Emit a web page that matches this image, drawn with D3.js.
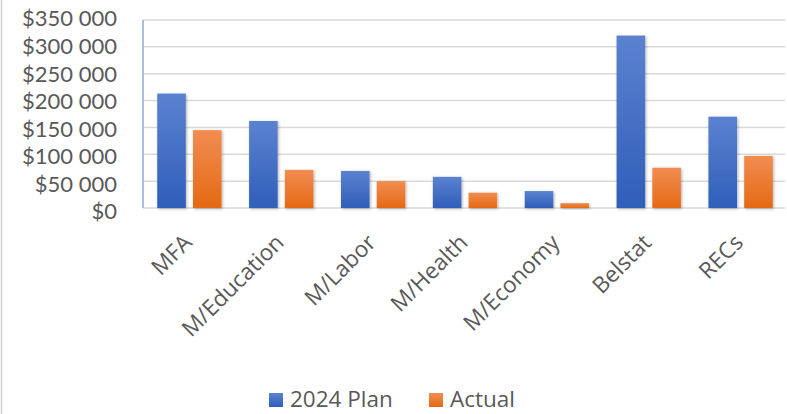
<!DOCTYPE html>
<html lang="en">
<head>
    <meta charset="UTF-8">
    <title>2024 Plan vs Actual</title>
    <script src="https://d3js.org/d3.v7.min.js"></script>
    <style>
        body { margin: 0; background: white; }
        text {
            font-family: 'Open Sans', sans-serif;
            fill: #595959;
        }
        .y-label text { font-family: Lato, 'Open Sans', sans-serif; }
        .tick line { display: none; }
        .domain { display: none; }
    </style>
</head>
<body>
<script>
    const width = 787;
    const height = 414;
    const margin = {top: 20, right: 0, bottom: 206, left: 143};

    const categories = ['MFA', 'M/Education', 'M/Labor', 'M/Health', 'M/Economy', 'Belstat', 'RECs'];
    const series = ['2024 Plan', 'Actual'];
    const plan   = [213000, 162000, 69000, 58000, 31500, 321000, 170000];
    const actual = [145000, 71000, 50000, 28500, 9000, 75000, 97000];
    const yTicks = [0, 50000, 100000, 150000, 200000, 250000, 300000, 350000];

    const colors = {'2024 Plan': ['#5b82d0', '#2f5eb9'], 'Actual': ['#f18d52', '#e56914']};

    const data = categories.map((c, i) => ({cat: c, values: [plan[i], actual[i]]}));

    const svg = d3.select("body").append("svg").attr("width", width).attr("height", height);

    // outer chart border on the left
    svg.append("line").attr("x1", 1.5).attr("x2", 1.5).attr("y1", 0).attr("y2", height)
        .style("stroke", "#d0d0d0").style("stroke-width", 1.5);

    const defs = svg.append("defs");
    series.forEach((s, i) => {
        const g = defs.append("linearGradient").attr("id", "grad" + i)
            .attr("x1", 0).attr("x2", 0).attr("y1", 0).attr("y2", 1);
        g.append("stop").attr("offset", "0%").attr("stop-color", colors[s][0]);
        g.append("stop").attr("offset", "100%").attr("stop-color", colors[s][1]);
    });
    const shadow = defs.append("filter").attr("id", "shadow")
        .attr("x", "-20%").attr("y", "-20%").attr("width", "150%").attr("height", "150%");
    shadow.append("feDropShadow").attr("dx", 1).attr("dy", 1).attr("stdDeviation", 1.5)
        .attr("flood-color", "#000").attr("flood-opacity", 0.3);

    const innerW = width - margin.left - margin.right;
    const innerH = height - margin.top - margin.bottom;

    const x = d3.scaleBand().domain(categories).range([0, innerW]).paddingInner(0.3).paddingOuter(0.155);
    const xs = d3.scaleBand().domain(series).range([0, x.bandwidth()]).paddingInner(0.2);
    const y = d3.scaleLinear().domain([0, 350000]).range([innerH, 0]);
    // tick labels sit on a slightly wider spacing than the gridlines in the original
    const yLabel = d3.scaleLinear().domain([0, 350000]).range([innerH + 3, -2]);

    const chart = svg.append("g").attr("transform", `translate(${margin.left},${margin.top})`);

    // gridlines
    chart.selectAll(".grid")
        .data(yTicks).enter()
        .append("line")
        .attr("class", "grid")
        .attr("x1", 0).attr("x2", innerW - 2)
        .attr("y1", d => y(d)).attr("y2", d => y(d))
        .style("stroke", "#d9d9d9").style("stroke-width", 1.5);

    // y axis labels
    const fmt = d => "$" + d3.format(",")(d).replace(/,/g, " ");
    const yAxis = chart.append("g").attr("class", "y-label")
        .call(d3.axisLeft(yLabel).tickValues(yTicks).tickFormat(fmt).tickSize(0).tickPadding(26));
    yAxis.selectAll("text").style("font-size", "22px").style("fill", "#595959").attr("dy", "0.36em");

    // value axis line
    chart.append("line").attr("x1", 0).attr("x2", 0).attr("y1", 0).attr("y2", innerH)
        .style("stroke", "#8eaadb").style("stroke-width", 1.5);

    // bars
    const groups = chart.selectAll(".group")
        .data(data).enter()
        .append("g")
        .attr("transform", d => `translate(${x(d.cat)},0)`);

    groups.selectAll("rect")
        .data(d => d.values.map((v, i) => ({s: series[i], i: i, v: v})))
        .enter()
        .append("rect")
        .attr("x", d => xs(d.s))
        .attr("width", xs.bandwidth())
        .attr("y", d => y(d.v))
        .attr("height", d => y(0) - y(d.v))
        .style("fill", d => `url(#grad${d.i})`)
        .attr("filter", "url(#shadow)");

    // x axis labels
    const xAxis = chart.append("g").attr("transform", `translate(0,${innerH})`)
        .call(d3.axisBottom(x).tickSize(0).tickPadding(0));
    xAxis.selectAll("text")
        .style("font-size", "22.5px").style("fill", "#595959")
        .attr("text-anchor", "end")
        .attr("dy", 0)
        .attr("transform", "translate(4,36) rotate(-45)");

    // legend
    const legend = svg.append("g").attr("transform", "translate(269,393)");
    const legendX = [0, 160];
    series.forEach((s, i) => {
        const item = legend.append("g").attr("transform", `translate(${legendX[i]},0)`);
        item.append("rect").attr("width", 14).attr("height", 14).style("fill", `url(#grad${i})`);
        item.append("text").attr("x", 21).attr("y", 14)
            .style("font-size", "22.5px").text(s);
    });
</script>
</body>
</html>
